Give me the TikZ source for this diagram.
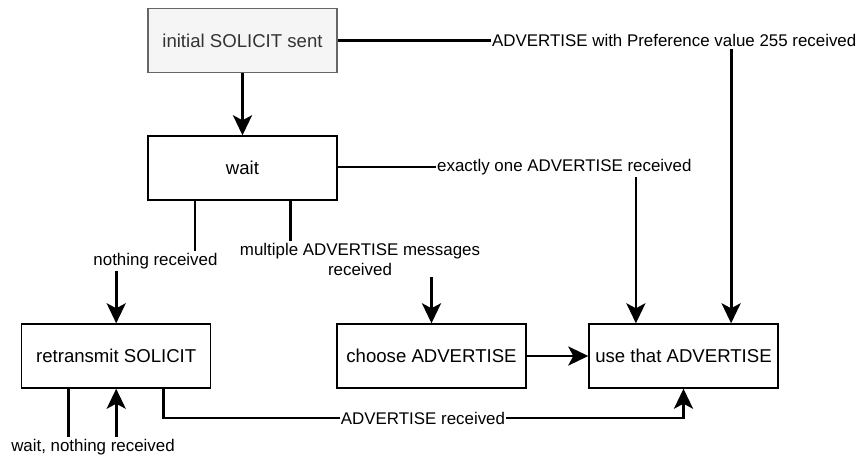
\documentclass[tikz,border=0pt]{standalone}
\usepackage{fontspec}
\setmainfont{Liberation Sans}
\usetikzlibrary{arrows.meta,calc}

\definecolor{startfill}{HTML}{F5F5F5}
\definecolor{startline}{HTML}{666666}
\definecolor{starttext}{HTML}{333333}

\tikzset{
  statebox/.style={draw=black, fill=white, line width=1.4pt,
    minimum width=189pt, minimum height=64pt, inner sep=0pt,
    font=\fontsize{18.6}{22}\selectfont},
  startbox/.style={statebox, draw=startline, fill=startfill, text=starttext},
  edgelabel/.style={inner xsep=1pt, inner ysep=2pt, align=center,
    font=\fontsize{16.9}{20}\selectfont},
  conn/.style={line width=2.8pt, draw=black},
  arrowconn/.style={conn, -{Stealth[length=20pt, width=19pt, inset=5pt]}},
}

\begin{document}
\begin{tikzpicture}[x=1pt, y=-1pt]
  \useasboundingbox (0,0) rectangle (857,459);

  % states
  \node[startbox] (init) at (242.5,40.5) {initial SOLICIT sent};
  \node[statebox] (wait) at (242.5,168) {wait};
  \node[statebox] (retr) at (116.2,356) {retransmit SOLICIT};
  \node[statebox] (choose) at (431.5,356) {choose ADVERTISE};
  \node[statebox] (use) at (683.5,356) {use that ADVERTISE};

  % attachment points at the quarter marks of the box edges
  \coordinate (waitQ1) at ($(wait.south west)!0.25!(wait.south east)$);
  \coordinate (waitQ3) at ($(wait.south west)!0.75!(wait.south east)$);
  \coordinate (retrQ1) at ($(retr.south west)!0.25!(retr.south east)$);
  \coordinate (retrQ3) at ($(retr.south west)!0.75!(retr.south east)$);
  \coordinate (useQ1) at ($(use.north west)!0.25!(use.north east)$);
  \coordinate (useQ3) at ($(use.north west)!0.75!(use.north east)$);

  % edge labels
  \node[edgelabel, anchor=east] (pref) at (857.5,40.5)
    {ADVERTISE with Preference value 255 received};
  \node[edgelabel, anchor=west] (one) at (436,167)
    {exactly one ADVERTISE received};
  \node[edgelabel] (none) at (155.5,261) {nothing received};
  \node[edgelabel] (multi) at (360,259)
    {multiple ADVERTISE messages\\received};
  \node[edgelabel] (adv) at (423,418) {ADVERTISE received};
  \node[edgelabel] (again) at (93,447) {wait, nothing received};

  % transitions
  \draw[arrowconn] (init) -- (wait);

  \draw[conn] (init.east) -- (pref.west);
  \draw[arrowconn] (pref.south -| useQ3) -- (useQ3);

  \draw[conn] (wait.east |- one.west) -- (one.west);
  \draw[arrowconn] (one.south -| useQ1) -- (useQ1);

  \draw[conn] (waitQ1) -- (none.north -| waitQ1);
  \draw[arrowconn] (none.south -| retr.north) -- (retr.north);

  \draw[conn] (waitQ3) -- (multi.north -| waitQ3);
  \draw[arrowconn] (multi.south -| choose.north) -- (choose.north);

  \draw[arrowconn] (choose.east) -- (use.west);

  \draw[conn] (retrQ3) |- (adv.west);
  \draw[arrowconn] (adv.east) -| (use.south);

  \draw[conn] (retrQ1) -- (again.north -| retrQ1);
  \draw[arrowconn] (again.north -| retr.south) -- (retr.south);
\end{tikzpicture}
\end{document}
